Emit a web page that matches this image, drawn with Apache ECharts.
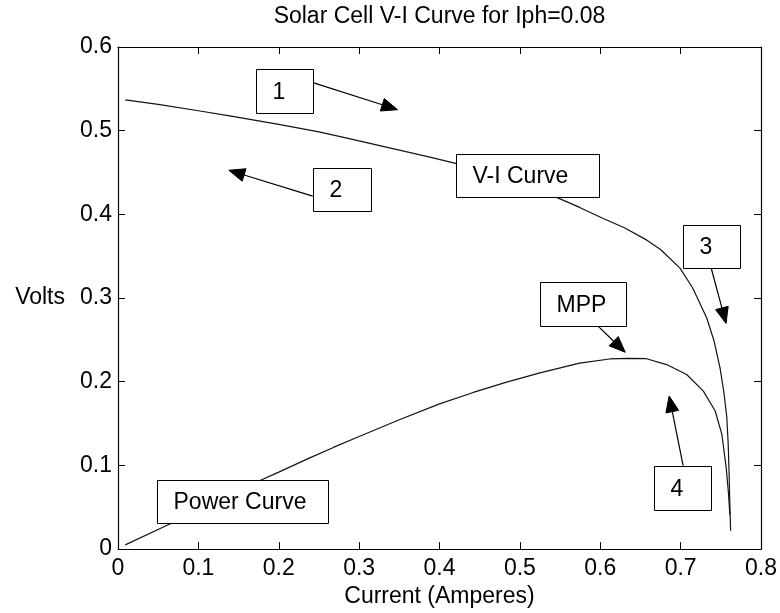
<!DOCTYPE html>
<html>
<head>
<meta charset="utf-8">
<script src="https://cdn.jsdelivr.net/npm/echarts@6/dist/echarts.min.js"></script>
<style>
  html, body { margin: 0; padding: 0; background: #fff; }
  #chart { width: 780px; height: 613px; }
</style>
</head>
<body>
<div id="chart"></div>
<script>
// Solar cell V-I characteristic and power curve, Iph = 0.08
const titleText = 'Solar Cell V-I Curve for Iph=0.08';
const xName = 'Current (Amperes)';
const yName = 'Volts';

// current (A), voltage (V)
const viCurve = [
  [0.009, 0.5368], [0.05, 0.5315], [0.1, 0.5238], [0.139, 0.5178], [0.2, 0.5075],
  [0.25, 0.4985], [0.289, 0.4902], [0.35, 0.4768], [0.388, 0.4685], [0.42, 0.461],
  [0.46, 0.450], [0.50, 0.437], [0.545, 0.4206], [0.575, 0.408], [0.603, 0.3953],
  [0.63, 0.384], [0.6575, 0.3695], [0.675, 0.358], [0.6992, 0.3358], [0.715, 0.312],
  [0.7325, 0.2762], [0.7415, 0.249], [0.749, 0.2166], [0.754, 0.186], [0.7575, 0.157],
  [0.7592, 0.125], [0.7603, 0.0900], [0.7612, 0.055], [0.7622, 0.022]
];

// current (A), power
const powerCurve = [
  [0.009, 0.005], [0.0638, 0.0296], [0.1, 0.0464], [0.15, 0.0695], [0.176, 0.0816],
  [0.2, 0.092], [0.2386, 0.109], [0.268, 0.1215], [0.3, 0.1345], [0.35, 0.1545],
  [0.4, 0.1735], [0.442, 0.1872], [0.4835, 0.1995], [0.525, 0.2105], [0.5742, 0.2222],
  [0.6117, 0.2272], [0.635, 0.2280], [0.6575, 0.2275], [0.6825, 0.2205], [0.7075, 0.2086],
  [0.7283, 0.1888], [0.743, 0.165], [0.7513, 0.137], [0.7567, 0.0974],
  [0.7596, 0.0656], [0.7612, 0.0406]
];

// text boxes: label, corner (x, y), opposite corner (x, y) in axis units
const noteLabels = ['1', '2', 'V-I Curve', '3', 'MPP', '4', 'Power Curve'];
const noteCorners = [
  [0.1714, 0.5738, 0.2422, 0.5216],
  [0.2422, 0.4550, 0.3143, 0.4039],
  [0.4199, 0.4717, 0.5975, 0.4206],
  [0.7031, 0.3873, 0.7739, 0.3362],
  [0.5255, 0.3196, 0.6323, 0.2673],
  [0.6671, 0.0998, 0.7379, 0.0475],
  [0.0484, 0.0820, 0.2609, 0.0309]
];

// arrows: tail (x, y) -> head (x, y) in axis units
const noteArrows = [
  [0.2435, 0.5572, 0.3478, 0.5251],
  [0.2422, 0.4218, 0.1379, 0.4527],
  [0.7379, 0.3362, 0.7565, 0.2697],
  [0.5963, 0.2673, 0.6311, 0.2352],
  [0.7031, 0.0998, 0.6857, 0.1830]
];

const FONT = '"Liberation Sans", Arial, Helvetica, sans-serif';
const FS = 23;
const INK = '#000';

function boxAxis(extra) {
  return Object.assign({
    type: 'value',
    axisLine: { show: true, onZero: false, lineStyle: { color: INK, width: 1.2 } },
    axisTick: { show: true, inside: true, length: 7, lineStyle: { color: INK, width: 1 } },
    splitLine: { show: false },
    axisLabel: { color: INK, fontSize: FS, fontFamily: FONT }
  }, extra);
}

const chart = echarts.init(document.getElementById('chart'), null, { renderer: 'canvas' });

chart.setOption({
  animation: false,
  backgroundColor: '#fff',
  grid: { left: 118, right: 18, top: 47, bottom: 61, containLabel: false },
  xAxis: [
    boxAxis({
      min: 0, max: 0.8, interval: 0.1, position: 'bottom',
      axisLabel: { color: INK, fontSize: FS, fontFamily: FONT, margin: 8 },
      name: xName, nameLocation: 'middle', nameGap: 34,
      nameTextStyle: { color: INK, fontSize: FS, fontFamily: FONT }
    }),
    boxAxis({
      min: 0, max: 0.8, interval: 0.1, position: 'top',
      axisLabel: { show: false },
      name: titleText, nameLocation: 'middle', nameGap: 19,
      nameTextStyle: { color: INK, fontSize: FS, fontFamily: FONT }
    })
  ],
  yAxis: [
    boxAxis({
      min: 0, max: 0.6, interval: 0.1, position: 'left',
      axisLabel: { color: INK, fontSize: FS, fontFamily: FONT, margin: 6 },
      name: yName, nameLocation: 'middle', nameRotate: 0, nameGap: 53,
      nameTextStyle: {
        color: INK, fontSize: FS, fontFamily: FONT,
        align: 'right', verticalAlign: 'middle', padding: [0, 0, 45, 0]
      }
    }),
    boxAxis({
      min: 0, max: 0.6, interval: 0.1, position: 'right',
      axisLabel: { show: false }
    })
  ],
  series: [
    {
      name: 'V-I Curve', type: 'line', data: viCurve,
      xAxisIndex: 0, yAxisIndex: 0,
      showSymbol: false, symbol: 'none', smooth: false,
      lineStyle: { color: '#1a1010', width: 1.2 }, z: 2
    },
    {
      name: 'Power Curve', type: 'line', data: powerCurve,
      xAxisIndex: 0, yAxisIndex: 0,
      showSymbol: false, symbol: 'none', smooth: false,
      lineStyle: { color: '#1a1010', width: 1.2 }, z: 2
    },
    {
      name: 'arrows', type: 'custom', coordinateSystem: 'cartesian2d',
      xAxisIndex: 0, yAxisIndex: 0, z: 5, silent: true,
      data: noteArrows,
      encode: { x: [0, 2], y: [1, 3] },
      renderItem: function (params, api) {
        const a = api.coord([api.value(0), api.value(1)]);
        const b = api.coord([api.value(2), api.value(3)]);
        const dx = b[0] - a[0], dy = b[1] - a[1];
        const len = Math.hypot(dx, dy);
        const ux = dx / len, uy = dy / len;
        const headLen = 16, headHalf = 6.5;
        const base = [b[0] - ux * headLen, b[1] - uy * headLen];
        return {
          type: 'group',
          children: [
            {
              type: 'line',
              shape: { x1: a[0], y1: a[1], x2: base[0], y2: base[1] },
              style: { stroke: INK, lineWidth: 1.2 }
            },
            {
              type: 'polygon',
              shape: {
                points: [
                  b,
                  [base[0] - uy * headHalf, base[1] + ux * headHalf],
                  [base[0] + uy * headHalf, base[1] - ux * headHalf]
                ]
              },
              style: { fill: INK, stroke: INK, lineWidth: 1 }
            }
          ]
        };
      }
    },
    {
      name: 'notes', type: 'custom', coordinateSystem: 'cartesian2d',
      xAxisIndex: 0, yAxisIndex: 0, z: 6, silent: true,
      data: noteCorners,
      encode: { x: [0, 2], y: [1, 3] },
      renderItem: function (params, api) {
        const p = api.coord([api.value(0), api.value(1)]);
        const q = api.coord([api.value(2), api.value(3)]);
        const x = Math.round(Math.min(p[0], q[0])) + 0.5;
        const y = Math.round(Math.min(p[1], q[1])) + 0.5;
        const w = Math.round(Math.abs(q[0] - p[0]));
        const h = Math.round(Math.abs(q[1] - p[1]));
        return {
          type: 'group',
          children: [
            {
              type: 'rect',
              shape: { x: x, y: y, width: w, height: h },
              style: { fill: '#fff', stroke: INK, lineWidth: 1 }
            },
            {
              type: 'text',
              x: x + 16, y: y + h / 2 + 1,
              style: {
                text: noteLabels[params.dataIndex],
                fill: INK, font: FS + 'px ' + FONT,
                align: 'left', verticalAlign: 'middle'
              }
            }
          ]
        };
      }
    }
  ]
});
</script>
</body>
</html>
